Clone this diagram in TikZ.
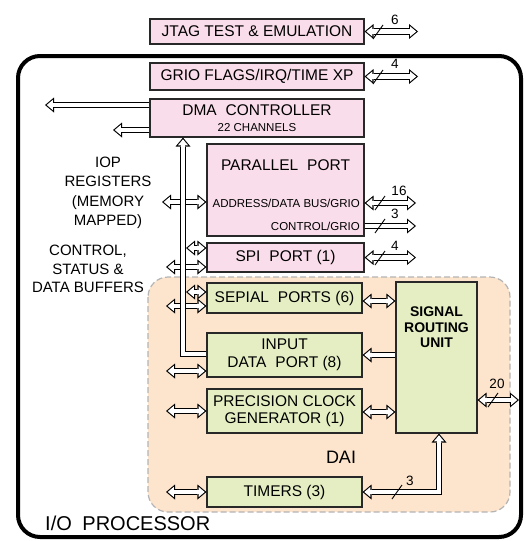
\documentclass[tikz,border=0pt]{standalone}
\usepackage{fontspec}
\setmainfont{Liberation Sans}
\usetikzlibrary{arrows.meta,calc}
\definecolor{boxpink}{RGB}{250,221,234}
\definecolor{boxgreen}{RGB}{229,238,194}
\definecolor{daifill}{RGB}{253,228,204}
\definecolor{daiedge}{RGB}{180,180,180}
\definecolor{edge}{RGB}{40,40,40}
\newcommand\fmain{\fontsize{15.5}{17.5}\selectfont}
\newcommand\fsmall{\fontsize{11.5}{13}\selectfont}
\newcommand\fnum{\fontsize{13.5}{15}\selectfont}
\newcommand\fbig{\fontsize{18}{21}\selectfont}
\newcommand\fiop{\fontsize{20}{23}\selectfont}
\newcommand\fsru{\fontsize{14}{15.5}\selectfont\bfseries}
\tikzset{
  outerhead/.tip={Triangle[length=9pt,width=15pt,line width=0pt]},
  innerhead/.tip={Triangle[length=6.2pt,width=10.3pt,line width=0pt]},
  hbase/.style={color=white, line width=4.4pt, line join=miter},
  hr/.style={hbase, -innerhead, shorten >=1.72pt,
     preaction={draw, color=black, line width=6.6pt, -outerhead, shorten >=0pt}},
  hl/.style={hbase, innerhead-, shorten <=1.72pt,
     preaction={draw, color=black, line width=6.6pt, outerhead-, shorten <=0pt}},
  hd/.style={hbase, innerhead-innerhead, shorten <=1.72pt, shorten >=1.72pt,
     preaction={draw, color=black, line width=6.6pt, outerhead-outerhead, shorten <=0pt, shorten >=0pt}},
  box/.style={draw=edge, line width=1.1pt, inner sep=0pt, font=\fmain, align=center},
  pinkbox/.style={box, fill=boxpink},
  greenbox/.style={box, fill=boxgreen},
  slash/.style={draw=black, line width=0.9pt},
  num/.style={font=\fnum, inner sep=0pt},
  txt/.style={font=\fmain, align=center, inner sep=0pt},
}
\begin{document}
\begin{tikzpicture}[x=1pt,y=-1pt]
\useasboundingbox (0,0) rectangle (525,541);
% frame and DAI region
\draw[line width=4pt, rounded corners=22pt] (18,56) rectangle (521,537);
\draw[daiedge, dash pattern=on 6pt off 3pt, line width=1.2pt, fill=daifill, rounded corners=20pt] (148,277) rectangle (510,512);
% boxes
\node[pinkbox, minimum width=214pt, minimum height=25pt] (jtag) at (257,31.5) {JTAG TEST \& EMULATION};
\node[pinkbox, minimum width=214pt, minimum height=27pt] (grio) at (257,76.5) {GRIO FLAGS/IRQ/TIME XP};
\node[pinkbox, minimum width=214pt, minimum height=38pt] (dma) at (257,118) {DMA\hspace{0.3em} CONTROLLER\\[-2pt]{\fsmall 22 CHANNELS}};
\node[pinkbox, minimum width=157pt, minimum height=92pt] (par) at (285.5,190) {};
\node[pinkbox, minimum width=157pt, minimum height=29pt] (spi) at (285.5,257.5) {SPI\hspace{0.3em} PORT (1)};
\node[greenbox, minimum width=155pt, minimum height=30pt] (ser) at (284.5,298) {SEPIAL\hspace{0.3em} PORTS (6)};
\node[greenbox, minimum width=81pt, minimum height=151pt] (sru) at (436.5,357.5) {};
\node[greenbox, minimum width=155pt, minimum height=44pt] (idp) at (284.5,355) {INPUT\\[0.5pt]DATA\hspace{0.3em} PORT (8)};
\node[greenbox, minimum width=155pt, minimum height=44pt] (pcg) at (284.5,411) {PRECISION CLOCK\\GENERATOR (1)};
\node[greenbox, minimum width=155pt, minimum height=30pt] (tim) at (284.5,492) {TIMERS (3)};
% texts inside boxes
\node[txt] (partitle) at (285.5,165) {PARALLEL\hspace{0.3em} PORT};
\node[txt, font=\fsmall, anchor=east] (addrtxt) at (360,203) {ADDRESS/DATA BUS/GRIO};
\node[txt, font=\fsmall, anchor=east] (ctrltxt) at (360,226) {CONTROL/GRIO};
\node[txt, font=\fsru] (srutxt) at (436.5,327.5) {SIGNAL\\ROUTING\\UNIT};
% free labels
\node[txt, font=\fontsize{15}{19.5}\selectfont] (iopreg) at (108,193) {IOP\\REGISTERS\\(MEMORY\\MAPPED)};
\node[txt, font=\fontsize{15}{18.5}\selectfont] (csd) at (88,269) {CONTROL,\\STATUS \&\\DATA BUFFERS};
\node[txt, font=\fbig] (dai) at (341,457) {DAI};
\node[txt, font=\fiop, anchor=base west] (iop) at (45,530) {I/O\hspace{0.25em} PROCESSOR};
% free ends
\coordinate (jtagR) at (418,31.5);
\coordinate (grioR) at (418,76.5);
\coordinate (dmaL1) at (45,105);
\coordinate (dmaL2) at (113,130);
\coordinate (addrR) at (416,203);
\coordinate (ctrlR) at (416,226);
\coordinate (spiR) at (416,257.5);
\coordinate (sruR) at (519,400);
\coordinate (buscorner) at (183,354);
\coordinate (timcorner) at (439,492);
\coordinate (busL) at (162,202);
\coordinate (busR) at (186,0);
\coordinate (farL) at (166,0);
% right-hand connectors
\draw[hd] (jtag.east) -- (jtagR);
\draw[hd] (grio.east) -- (grioR);
\draw[hd] (par.east |- addrR) -- (addrR);
\draw[hr] (par.east |- ctrlR) -- (ctrlR);
\draw[hd] (spi.east) -- (spiR);
\draw[hd] (sru.east |- sruR) -- (sruR);
% DMA outputs
\draw[hr] (dma.west |- dmaL1) -- (dmaL1);
\draw[hr] (dma.west |- dmaL2) -- (dmaL2);
% bus taps
\draw[hd] (busL) -- (par.west |- busL);
\draw[hd] (busR |- 0,248) -- (spi.west |- 0,248);
\draw[hd] (farL |- 0,267) -- (spi.west |- 0,267);
\draw[hd] (busR |- 0,292) -- (ser.west |- 0,292);
\draw[hd] (farL |- 0,306) -- (ser.west |- 0,306);
\draw[hd] (farL |- 0,371) -- (idp.west |- 0,371);
\draw[hd] (farL |- pcg.west) -- (pcg.west);
\draw[hd] (farL |- tim.west) -- (tim.west);
% bus
\draw[hr] (idp.west |- buscorner) -- (buscorner) -- (buscorner |- dma.south);
% DAI internal
\draw[hd] (ser.east |- 0,301) -- (sru.west |- 0,301);
\draw[hl] (idp.east |- 0,355) -- (sru.west |- 0,355);
\draw[hd] (pcg.east |- 0,412) -- (sru.west |- 0,412);
\draw[hd] (tim.east) -- (timcorner) -- (timcorner |- sru.south);
% slashes
\foreach \sx/\sy in {378/32, 378/77, 380/203, 380/226, 380/258, 493/400, 397/492}
  \draw[slash] (\sx-5,\sy+7) -- (\sx+5,\sy-7);
% numbers
\node[num] (n6) at (395,20) {6};
\node[num] (n4a) at (395,64) {4};
\node[num] (n16) at (399,191) {16};
\node[num] (n3a) at (395,214) {3};
\node[num] (n4b) at (395,246) {4};
\node[num] (n20) at (497,384) {20};
\node[num] (n3b) at (410,481) {3};
\end{tikzpicture}
\end{document}
